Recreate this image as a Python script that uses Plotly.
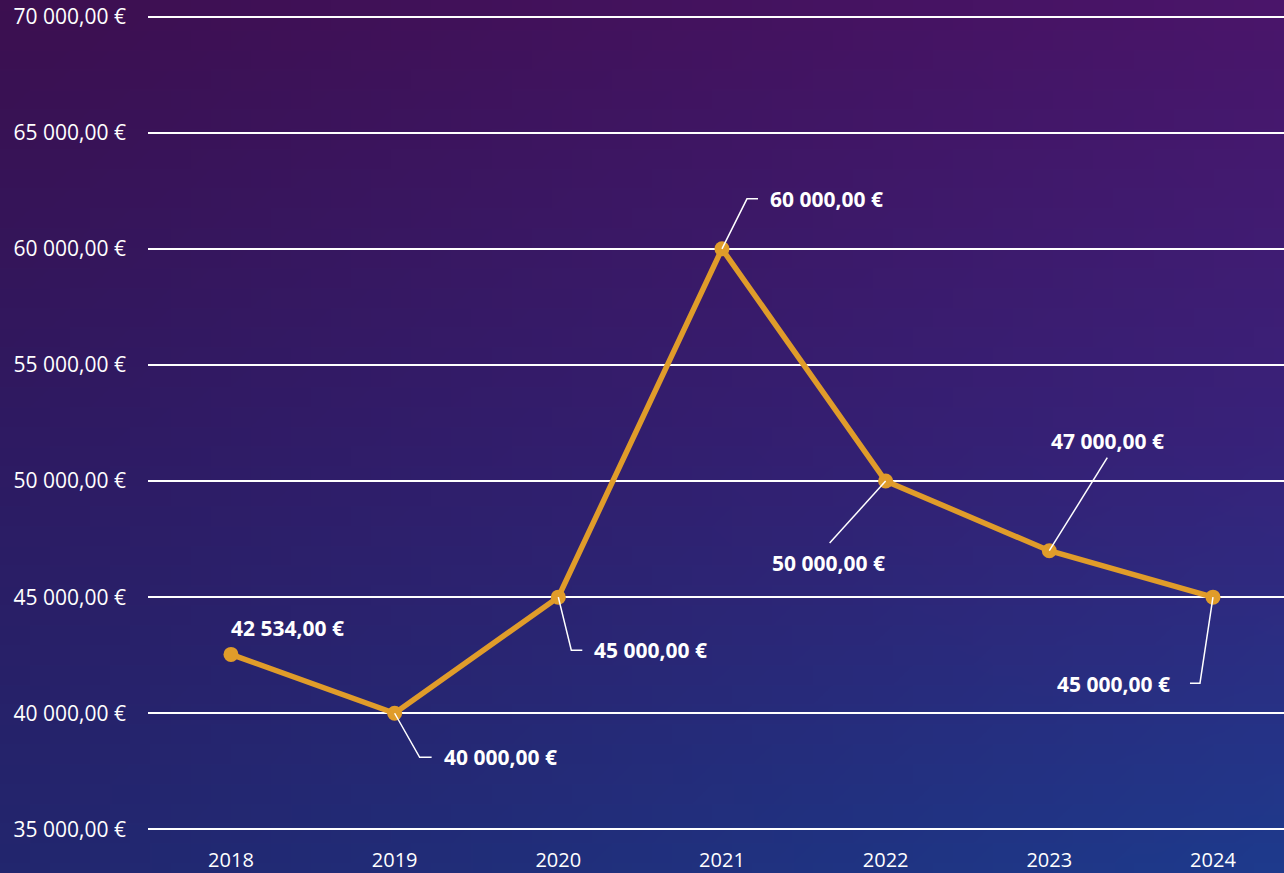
import base64, struct, zlib
import plotly.graph_objects as go

# ---- data ----
years = [2018, 2019, 2020, 2021, 2022, 2023, 2024]
values = [42534, 40000, 45000, 60000, 50000, 47000, 45000]
value_labels = ["42 534,00 €", "40 000,00 €", "45 000,00 €", "60 000,00 €",
                "50 000,00 €", "47 000,00 €", "45 000,00 €"]
ytick_vals = [35000, 40000, 45000, 50000, 55000, 60000, 65000, 70000]
ytick_text = ["35 000,00 €", "40 000,00 €", "45 000,00 €", "50 000,00 €",
              "55 000,00 €", "60 000,00 €", "65 000,00 €", "70 000,00 €"]
year_labels = [str(y) for y in years]

# label placement (pixel offsets from the point): leader path points, label pos, anchor
leaders = [
    [],
    [(0, 0), (25, -44), (37, -44)],
    [(0, 0), (13, -53), (24, -53)],
    [(0, 0), (25, 50), (36, 50)],
    [(0, 0), (-56, -62)],
    [(0, 0), (58, 93)],
    [(0, 0), (-13, -86), (-23, -86)],
]
label_pos = [(-2, 26, "left"), (47, -44, "left"), (34, -53, "left"), (46, 50, "left"),
             (-57, -82, "center"), (58, 110, "center"), (-41, -87, "right")]

W, H = 1284, 873
ML, MR, MT, MB = 148, 0, 12, 39
PW, PH = W - ML - MR, H - MT - MB


# ---- gradient background as PNG ----
def lerp(a, b, t):
    return tuple(a[i] + (b[i] - a[i]) * t for i in range(3))


TL, TR = (60, 15, 80), (74, 21, 106)
ML_, MR_ = (46, 26, 98), (56, 34, 122)
BL, BR = (34, 38, 110), (30, 58, 140)


def make_png(w, h):
    raw = b""
    for j in range(h):
        t = j / (h - 1)
        raw += b"\x00"
        for i in range(w):
            s = i / (w - 1)
            top = lerp(TL, TR, s)
            mid = lerp(ML_, MR_, s)
            bot = lerp(BL, BR, s)
            if t < 0.5:
                c = lerp(top, mid, t / 0.5)
            else:
                c = lerp(mid, bot, (t - 0.5) / 0.5)
            raw += bytes(int(round(v)) for v in c)

    def chunk(tag, data):
        return struct.pack(">I", len(data)) + tag + data + struct.pack(">I", zlib.crc32(tag + data) & 0xffffffff)

    png = b"\x89PNG\r\n\x1a\n"
    png += chunk(b"IHDR", struct.pack(">IIBBBBB", w, h, 8, 2, 0, 0, 0))
    png += chunk(b"IDAT", zlib.compress(raw, 9))
    png += chunk(b"IEND", b"")
    return "data:image/png;base64," + base64.b64encode(png).decode()


bg = make_png(64, 44)

fig = go.Figure()
fig.add_trace(go.Scatter(
    x=years, y=values, mode="lines+markers",
    line=dict(color="#E09C2A", width=5.5),
    marker=dict(color="#E09C2A", size=15),
    hoverinfo="skip", showlegend=False,
))

shapes = []
annotations = []
for yr, v, lead, (dx, dy, anc), txt in zip(years, values, leaders, label_pos, value_labels):
    if lead:
        path = "M " + " L ".join(f"{px},{py}" for px, py in lead)
        shapes.append(dict(type="path", path=path, xsizemode="pixel", ysizemode="pixel",
                           xanchor=yr, yanchor=v, xref="x", yref="y",
                           line=dict(color="white", width=1.5)))
    annotations.append(dict(x=yr, y=v, xref="x", yref="y", text=txt, showarrow=False,
                            xshift=dx, yshift=dy, xanchor=anc, yanchor="middle",
                            font=dict(family="Open Sans", size=21, color="white", weight="bold")))

fig.update_layout(
    width=W, height=H,
    margin=dict(l=ML, r=MR, t=MT, b=MB),
    paper_bgcolor="#2a1f6a",
    plot_bgcolor="rgba(0,0,0,0)",
    font=dict(family="Open Sans", size=21, color="white"),
    shapes=shapes,
    annotations=annotations,
    images=[dict(source=bg, xref="paper", yref="paper",
                 x=-ML / PW, y=1 + MT / PH, sizex=W / PW, sizey=H / PH,
                 xanchor="left", yanchor="top", sizing="stretch", layer="below")],
    xaxis=dict(range=[2017.493, 2024.434], tickvals=years, ticktext=year_labels,
               showgrid=False, zeroline=False, showline=False, ticks="", automargin=False,
               ticklabelstandoff=12, tickfont=dict(size=20, color="white")),
    yaxis=dict(range=[34800, 70200], tickvals=ytick_vals, ticktext=ytick_text,
               showgrid=True, gridcolor="white", gridwidth=2, zeroline=False, automargin=False,
               showline=False, ticks="", ticklabelstandoff=21,
               tickfont=dict(size=21, color="white")),
)

fig.write_html("out.html", config={"displayModeBar": False},
               post_script="document.body.style.margin='0';document.body.style.padding='0';")
